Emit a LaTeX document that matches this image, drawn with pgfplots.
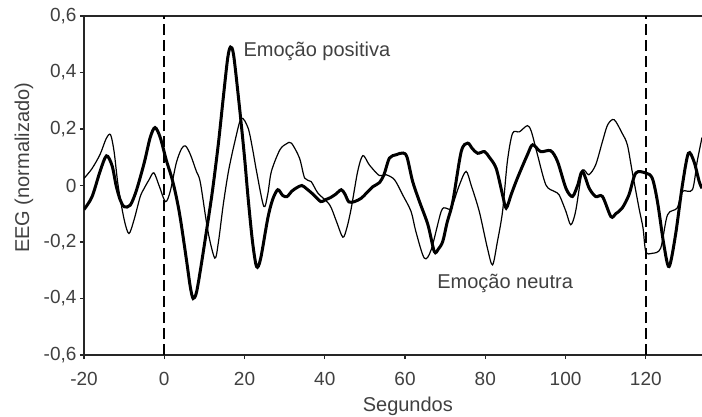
\documentclass[border=0pt]{standalone}
\usepackage{pgfplots}
\pgfplotsset{compat=1.18}
\usepackage{fontspec}
\setmainfont{Liberation Sans}
\definecolor{txt}{HTML}{404040}
\begin{document}
\begin{tikzpicture}
\begin{axis}[
  at={(0,0)}, anchor=south west,
  scale only axis, width=618pt, height=339pt,
  xmin=-20, xmax=134, ymin=-0.6, ymax=0.6,
  axis x line=box, axis y line=left,
  axis line style={-, line width=1.5pt, black!85},
  xtick={-20,0,...,120}, ytick={-0.6,-0.4,...,0.61},
  xtick pos=bottom, ytick pos=left,
  tick align=outside, major tick length=4pt,
  tick style={line width=1.2pt, black!85},
  /pgf/number format/assume math mode=true,
  /pgf/number format/use comma,
  yticklabel={\pgfmathprintnumber[fixed,precision=1,use comma]{\tick}},
  ticklabel style={font=\fontsize{19}{22}\selectfont, text=txt},
  xticklabel style={yshift=-10pt},
  xlabel={Segundos}, ylabel={EEG (normalizado)},
  label style={font=\fontsize{20}{24}\selectfont, text=txt},
  xlabel style={at={(axis description cs:0.524,-0.168)}, anchor=base},
  ylabel style={at={(axis description cs:-0.097,0.552)}, anchor=center},
  clip=true,
]
% dashed markers
\addplot[black, line width=2.3pt, dash pattern=on 11pt off 5pt] coordinates {(0,-0.6) (0,0.6)};
\addplot[black, line width=2.3pt, dash pattern=on 11pt off 5pt] coordinates {(120,-0.6) (120,0.6)};
% thin: Emocao neutra
\addplot[black, line width=1.2pt, smooth] coordinates {
(-20,0.025) (-18,0.06) (-16,0.11) (-14.5,0.165) (-13.4,0.18) (-12.5,0.12) (-11.5,0.0)
(-10,-0.12) (-8.8,-0.17) (-7.5,-0.12) (-6,-0.04) (-5,-0.01) (-3.8,0.02) (-2.6,0.045)
(-1.3,0.0) (0.3,-0.057) (1.5,-0.02) (3,0.08) (4.3,0.13) (5.3,0.14) (6.5,0.11) (8,0.05)
(9,0.01) (10.9,-0.163) (12.6,-0.257) (13.5,-0.2) (14.7,-0.068) (16,0.05) (17.6,0.156)
(19.2,0.238) (20.9,0.203) (22,0.13) (23,0.05) (24.8,-0.074) (25.8,-0.03) (26.7,0.05)
(28.8,0.126) (30.5,0.148) (31.7,0.15) (33.7,0.097) (35,0.026) (36.6,0.014) (38.3,-0.027)
(41.2,-0.068) (42.9,-0.127) (44.5,-0.183) (45.5,-0.15) (46.6,-0.08) (48.2,0.05) (49.5,0.106)
(51.1,0.073) (53.6,0.035) (55.3,0.038) (57.4,0.02) (59.4,-0.033) (61.5,-0.092) (62.7,-0.163)
(64.8,-0.257) (66.5,-0.228) (69,-0.092) (70.2,-0.08) (71.5,-0.08) (73.5,0.0) (75.2,0.05)
(76.5,0.0) (78.5,-0.092) (80.5,-0.22) (81.8,-0.281) (83,-0.2) (84.3,-0.092) (85.5,0.085)
(86.8,0.185) (88.5,0.19) (90.5,0.212) (91.5,0.19) (93,0.109) (95.1,0.002) (97.2,-0.021)
(98.4,-0.033) (100.1,-0.092) (101.3,-0.139) (102.5,-0.092) (104.2,0.05) (105.8,0.038)
(107.5,0.073) (109.2,0.156) (110.5,0.215) (112.1,0.233) (114.1,0.185) (115.4,0.144)
(116.6,0.05) (118.3,-0.08) (119.3,-0.15) (120,-0.234) (121.6,-0.24) (123.7,-0.222)
(125.4,-0.104) (127.8,-0.08) (129.1,-0.021) (131.6,-0.015) (132.8,0.085) (134,0.17)
};
% thick: Emocao positiva
\addplot[black, line width=3pt, smooth] coordinates {
(-20,-0.085) (-18,-0.04) (-16,0.05) (-14.4,0.105) (-13,0.07) (-12,0.0) (-11,-0.05)
(-10,-0.075) (-8.5,-0.07) (-7,-0.02) (-5,0.08) (-3.5,0.17) (-2.3,0.205) (-1,0.17)
(0.5,0.09) (1.9,0.026) (3,-0.04) (4,-0.116) (5.5,-0.26) (6.5,-0.36) (7.2,-0.40)
(8,-0.38) (9,-0.30) (10.5,-0.163) (12,-0.02) (13.5,0.15) (14.7,0.31) (15.8,0.45)
(16.5,0.49) (17.3,0.46) (18.8,0.27) (20,0.10) (20.9,-0.045) (22,-0.20) (23,-0.287)
(24,-0.26) (25.8,-0.116) (27,-0.05) (28.3,-0.015) (29.5,-0.035) (30.6,-0.039) (31.8,-0.02)
(33,-0.008) (34.3,0.0) (35.5,-0.012) (37,-0.03) (39,-0.057) (40.2,-0.05) (41.4,-0.043)
(42.8,-0.03) (44.1,-0.015) (45,-0.03) (46,-0.058) (47.4,-0.057) (49.1,-0.045)
(50.5,-0.025) (52,-0.004) (53.6,0.01) (54.8,0.04) (56.1,0.097) (57.8,0.109) (59.5,0.115)
(60.5,0.1) (61.9,0.014) (63.6,-0.057) (65.7,-0.139) (67.3,-0.234) (68.3,-0.225)
(69.4,-0.198) (70.5,-0.13) (71.9,-0.057) (74,0.12) (75.6,0.15) (76.8,0.13) (78.1,0.114)
(79.8,0.12) (81,0.1) (82.7,0.061) (84.3,-0.033) (85.2,-0.08) (86.5,-0.03) (88,0.026)
(90.5,0.109) (91.8,0.144) (93.8,0.12) (96.3,0.123) (98,0.085) (100.1,-0.01) (101.7,-0.039)
(103,0.0) (104.2,0.05) (105.9,-0.01) (107.5,-0.039) (109.2,-0.039) (111.3,-0.11)
(112.5,-0.1) (114.1,-0.08) (115.8,-0.033) (117.5,0.044) (120,0.044) (121.6,0.026)
(122.9,-0.057) (124.5,-0.21) (125.8,-0.287) (127.4,-0.175) (129.1,0.0) (130.6,0.114)
(132,0.085) (133.3,0.014) (134,-0.01)
};
\node[anchor=base west, inner sep=0pt, font=\fontsize{20}{24}\selectfont, text=txt] at (axis cs:19.7,0.457) {Emoção positiva};
\node[anchor=base west, inner sep=0pt, font=\fontsize{20}{24}\selectfont, text=txt] at (axis cs:68.0,-0.366) {Emoção neutra};
\end{axis}
\pgfresetboundingbox
\path (-84pt,-61pt) rectangle (618pt,355pt);
\end{tikzpicture}
\end{document}
